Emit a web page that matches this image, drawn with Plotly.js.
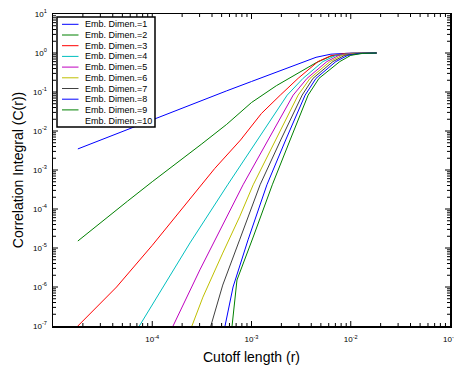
<!DOCTYPE html>
<html>
<head>
<meta charset="utf-8">
<script src="https://cdn.plot.ly/plotly-3.0.1.min.js"></script>
<style>html,body{margin:0;padding:0;background:#fff;}#chart{width:454px;height:366px;}</style>
</head>
<body>
<div id="chart"></div>
<script>
// ---- Data (r = cutoff length, C = correlation integral) ----
const seriesNames = ["Emb. Dimen.=1","Emb. Dimen.=2","Emb. Dimen.=3","Emb. Dimen.=4","Emb. Dimen.=5",
                     "Emb. Dimen.=6","Emb. Dimen.=7","Emb. Dimen.=8","Emb. Dimen.=9","Emb. Dimen.=10"];
const seriesColors = ["#0000ff","#008000","#ff0000","#00bfbf","#bf00bf","#bfbf00","#404040","#0000ff","#008000","rgba(0,0,0,0)"];

const r1 = [1.78e-5,3.16e-5,5.62e-5,1.0e-4,1.78e-4,3.16e-4,5.62e-4,1.0e-3,1.78e-3,3.16e-3,4.47e-3,6.31e-3,1.0e-2,1.82e-2];
const c1 = [3.47e-3,6.17e-3,1.10e-2,1.91e-2,3.39e-2,6.03e-2,1.07e-1,1.86e-1,3.24e-1,5.62e-1,7.76e-1,9.33e-1,0.99,1.0];

const r2 = [1.78e-5,3.16e-5,5.62e-5,1.0e-4,1.78e-4,3.16e-4,5.62e-4,1.0e-3,1.78e-3,3.16e-3,4.47e-3,6.31e-3,1.0e-2,1.82e-2];
const c2 = [1.51e-5,5.01e-5,1.58e-4,5.01e-4,1.51e-3,4.68e-3,1.48e-2,5.37e-2,1.45e-1,3.39e-1,5.62e-1,8.32e-1,0.977,1.0];

const r3 = [1.78e-5,4.37e-5,1.0e-4,1.78e-4,3.02e-4,4.27e-4,7.76e-4,1.26e-3,1.95e-3,2.95e-3,4.68e-3,6.31e-3,8.91e-3,1.82e-2];
const c3 = [1.0e-7,1.0e-6,1.17e-5,7.08e-5,3.63e-4,1.10e-3,5.89e-3,2.82e-2,8.32e-2,2.24e-1,6.03e-1,8.51e-1,0.977,1.0];

const r4 = [7.41e-5,1.12e-4,2.40e-4,5.75e-4,1.15e-3,2.29e-3,3.31e-3,5.25e-3,7.08e-3,1.0e-2,1.82e-2];
const c4 = [1.0e-7,5.50e-7,1.35e-5,4.17e-4,5.89e-3,8.32e-2,2.24e-1,6.03e-1,8.71e-1,0.977,1.0];

const r5 = [1.62e-4,2.40e-4,3.02e-4,8.22e-4,1.48e-3,2.63e-3,3.63e-3,5.75e-3,7.59e-3,1.05e-2,1.82e-2];
const c5 = [1.0e-7,8.32e-7,2.75e-6,4.17e-4,5.89e-3,8.32e-2,2.24e-1,6.03e-1,8.71e-1,0.977,1.0];

const r6 = [2.51e-4,3.24e-4,5.13e-4,7.59e-4,1.04e-3,1.76e-3,2.95e-3,3.89e-3,6.17e-3,8.13e-3,1.12e-2,1.82e-2];
const c6 = [1.0e-7,5.50e-7,7.41e-6,6.31e-5,4.17e-4,5.89e-3,8.32e-2,2.24e-1,6.03e-1,8.71e-1,0.977,1.0];

const r7 = [3.89e-4,5.13e-4,7.59e-4,1.22e-3,1.97e-3,3.24e-3,4.17e-3,6.61e-3,8.71e-3,1.20e-2,1.82e-2];
const c7 = [1.0e-7,1.12e-6,1.62e-5,4.17e-4,5.89e-3,8.32e-2,2.24e-1,6.03e-1,8.71e-1,0.977,1.0];

const r8 = [5.41e-4,6.52e-4,9.23e-4,1.43e-3,2.21e-3,3.47e-3,4.47e-3,7.08e-3,9.33e-3,1.26e-2,1.82e-2];
const c8 = [1.0e-7,1.0e-6,1.62e-5,4.17e-4,5.89e-3,8.32e-2,2.24e-1,6.03e-1,8.71e-1,0.977,1.0];

const r9 = [6.37e-4,7.14e-4,1.04e-3,1.62e-3,2.45e-3,3.72e-3,4.79e-3,7.76e-3,1.0e-2,1.32e-2,1.82e-2];
const c9 = [1.0e-7,1.51e-6,1.91e-5,4.17e-4,5.89e-3,8.32e-2,2.24e-1,6.03e-1,8.71e-1,0.977,1.0];

const r10 = [];
const c10 = [];

const xTickVals = [1e-4,1e-3,1e-2,1e-1];
const xTickText = ["10<sup>-4</sup>","10<sup>-3</sup>","10<sup>-2</sup>","10<sup>-1</sup>"];
const yTickVals = [1e-7,1e-6,1e-5,1e-4,1e-3,1e-2,1e-1,1e0,1e1];
const yTickText = ["10<sup>-7</sup>","10<sup>-6</sup>","10<sup>-5</sup>","10<sup>-4</sup>","10<sup>-3</sup>",
                   "10<sup>-2</sup>","10<sup>-1</sup>","10<sup>0</sup>","10<sup>1</sup>"];

// ---- Build traces ----
const rs = [r1,r2,r3,r4,r5,r6,r7,r8,r9,r10];
const cs = [c1,c2,c3,c4,c5,c6,c7,c8,c9,c10];
const traces = rs.map((r,i)=>({
  x: r, y: cs[i], type:'scatter', mode:'lines', name: seriesNames[i],
  line:{color: seriesColors[i], width:1}, showlegend:false, hoverinfo:'skip'
}));

// ---- geometry ----
const W = 454, H = 366, mL = 53, mR = 4, mT = 14, mB = 40;
const plotW = W - mL - mR, plotH = H - mT - mB;
const X_RANGE = [-5,-1], Y_RANGE = [-7,1];
const px2x = p => (p - mL) / plotW;
const py2y = p => (H - mB - p) / plotH;

const shapes = [];

// ---- tick marks on all four sides (inside), major + minor, drawn as paper shapes ----
function addTicks(range, isX){
  const span = range[1] - range[0];
  for(let e = range[0]; e <= range[1]; e++){
    for(let m = 1; m <= 9; m++){
      const lv = e + Math.log10(m);
      if(lv <= range[0] + 1e-9 || lv >= range[1] - 1e-9) continue;
      const f = (lv - range[0]) / span;
      const lenPx = (m === 1) ? 5 : 3;
      const st = {color:'black', width:1};
      if(isX){
        const l = lenPx / plotH;
        shapes.push({type:'line', xref:'paper', yref:'paper', layer:'above', x0:f, x1:f, y0:0, y1:l, line:st});
        shapes.push({type:'line', xref:'paper', yref:'paper', layer:'above', x0:f, x1:f, y0:1, y1:1-l, line:st});
      } else {
        const l = lenPx / plotW;
        shapes.push({type:'line', xref:'paper', yref:'paper', layer:'above', x0:0, x1:l, y0:f, y1:f, line:st});
        shapes.push({type:'line', xref:'paper', yref:'paper', layer:'above', x0:1, x1:1-l, y0:f, y1:f, line:st});
      }
    }
  }
}
addTicks(X_RANGE, true);
addTicks(Y_RANGE, false);

// ---- Manual legend (compact, like the original) ----
shapes.push({
  type:'rect', xref:'paper', yref:'paper', layer:'above',
  x0:px2x(57), x1:px2x(155), y0:py2y(127), y1:py2y(17),
  line:{color:'black', width:1.5}, fillcolor:'white'
});
const annotations = [];
seriesNames.forEach((nm,i)=>{
  const yy = py2y(24.3 + i*10.7);
  shapes.push({type:'line', xref:'paper', yref:'paper', layer:'above',
    x0:px2x(62), x1:px2x(78.5), y0:yy, y1:yy, line:{color:seriesColors[i], width:1}});
  annotations.push({xref:'paper', yref:'paper', x:px2x(83), y:yy, xanchor:'left', yanchor:'middle',
    text:nm, showarrow:false, font:{size:9, color:'black', family:'Liberation Sans, Arial, sans-serif'}});
});

const FONT = 'Liberation Sans, Arial, sans-serif';
const axisCommon = {
  type:'log', showline:true, linecolor:'black', linewidth:1.5, mirror:true,
  ticks:'', showgrid:false, zeroline:false, tickmode:'array', ticklabeloverflow:'allow',
  tickfont:{size:8, color:'black', family:FONT}
};

const layout = {
  width:W, height:H,
  margin:{l:mL, r:mR, t:mT, b:mB, pad:0},
  paper_bgcolor:'white', plot_bgcolor:'white',
  font:{family:FONT, color:'black'},
  showlegend:false,
  xaxis:Object.assign({}, axisCommon, {
    range:X_RANGE, tickvals:xTickVals, ticktext:xTickText, ticklabelstandoff:5,
    title:{text:'Cutoff length (r)', font:{size:14, color:'black'}, standoff:9}
  }),
  yaxis:Object.assign({}, axisCommon, {
    range:Y_RANGE, tickvals:yTickVals, ticktext:yTickText, ticklabelstandoff:3,
    title:{text:'Correlation Integral (C(r))', font:{size:14, color:'black'}, standoff:6}
  }),
  shapes:shapes, annotations:annotations
};

Plotly.newPlot('chart', traces, layout, {staticPlot:true, displayModeBar:false});
</script>
</body>
</html>
